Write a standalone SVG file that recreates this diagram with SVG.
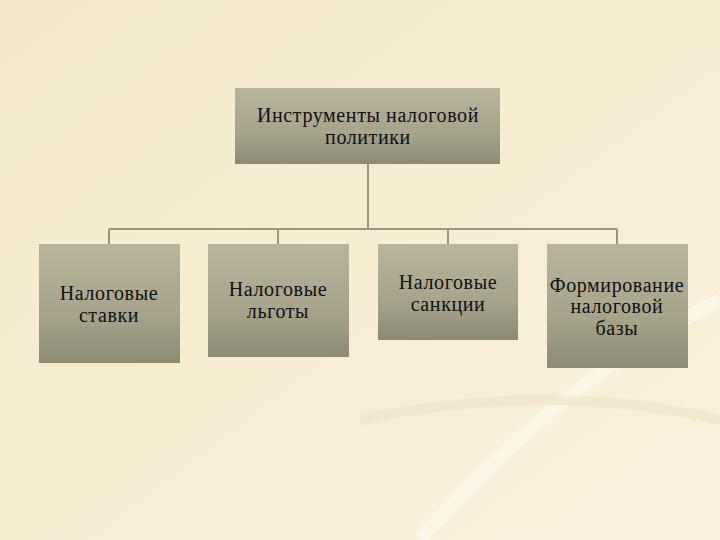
<svg xmlns="http://www.w3.org/2000/svg" width="720" height="540" viewBox="0 0 720 540">
<defs>
<linearGradient id="g" x1="0" y1="0" x2="0" y2="1"><stop offset="0" stop-color="#b9b49c"/><stop offset="0.6" stop-color="#a6a38a"/><stop offset="1" stop-color="#8c8a73"/></linearGradient>
<linearGradient id="bg" x1="0" y1="0" x2="1" y2="1"><stop offset="0" stop-color="#f4e9cb"/><stop offset="1" stop-color="#f9f1dc"/></linearGradient>
<style>.b{fill:url(#g)}.t{font-family:"Liberation Serif",serif;font-size:20px;letter-spacing:0.6px;fill:#111;text-anchor:middle}.c{stroke:#9c9680;stroke-width:2;fill:none}</style>
</defs>
<rect width="720" height="540" fill="url(#bg)"/>
<path d="M420 540 Q560 380 720 300" stroke="#fbf6e8" stroke-width="14" fill="none" opacity="0.8"/>
<path d="M360 420 Q550 380 720 420" stroke="#efe6cc" stroke-width="10" fill="none" opacity="0.7"/>
<g id="connectors">
<path class="c" d="M368 164V229M109 229H617M109 229V244M278 229V244M448 229V244M617 229V244"/>
</g>
<g id="n0"><rect class="b" x="235" y="88" width="265" height="76"/><text class="t" x="368" y="122">Инструменты налоговой</text><text class="t" x="368" y="144">политики</text></g>
<g id="n1"><rect class="b" x="39" y="244" width="141" height="119"/><text class="t" x="109" y="300">Налоговые</text><text class="t" x="109" y="322">ставки</text></g>
<g id="n2"><rect class="b" x="208" y="244" width="141" height="113"/><text class="t" x="278" y="296">Налоговые</text><text class="t" x="278" y="318">льготы</text></g>
<g id="n3"><rect class="b" x="378" y="244" width="140" height="96"/><text class="t" x="448" y="289">Налоговые</text><text class="t" x="448" y="311">санкции</text></g>
<g id="n4"><rect class="b" x="547" y="244" width="141" height="124"/><text class="t" x="617" y="292">Формирование</text><text class="t" x="617" y="313">налоговой</text><text class="t" x="617" y="335">базы</text></g>
</svg>
